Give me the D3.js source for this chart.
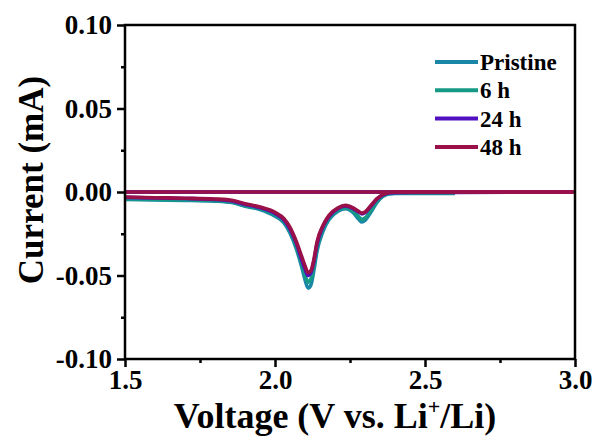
<!DOCTYPE html>
<html><head><meta charset="utf-8">
<script src="https://cdn.jsdelivr.net/npm/d3@7"></script>
<style>body{margin:0;background:#fff}svg{display:block}text{font-family:"Liberation Serif","Times New Roman",serif;font-weight:bold}</style>
</head><body><svg id="c" width="599" height="438"></svg>
<script>
// Data
const seriesNames = ["Pristine", "6 h", "24 h", "48 h"];
const seriesColors = ["#1a86a8", "#169a86", "#5010c0", "#9a1048"];
const fwdV = [1.50,1.60,1.70,1.80,1.86,1.90,1.95,2.00,2.03,2.05,2.07,2.09,2.10,2.11,2.12,2.13,2.14,2.16,2.18,2.21,2.235,2.26,2.28,2.29,2.30,2.32,2.34,2.36,2.38,2.40,2.50,2.60];
const fwdPristine = [-0.0045,-0.0048,-0.005,-0.0055,-0.0065,-0.0085,-0.0105,-0.0145,-0.0185,-0.0245,-0.0335,-0.0455,-0.0525,-0.0575,-0.0555,-0.0465,-0.0355,-0.0235,-0.0165,-0.0115,-0.0100,-0.0122,-0.0165,-0.0180,-0.0170,-0.0120,-0.0062,-0.0026,-0.0011,-0.0009,-0.0009,-0.0009];
const fwd6h = [-0.0042,-0.0045,-0.0047,-0.0052,-0.0062,-0.0082,-0.0100,-0.0138,-0.0178,-0.0235,-0.0322,-0.0435,-0.0495,-0.0540,-0.0520,-0.0442,-0.0335,-0.0222,-0.0158,-0.0108,-0.0094,-0.0112,-0.0150,-0.0165,-0.0156,-0.0110,-0.0056,-0.0021,-0.0009,-0.0007,-0.0007,-0.0007];
const fwd24h = [-0.0032,-0.0036,-0.0039,-0.0045,-0.0055,-0.0075,-0.0094,-0.0128,-0.0168,-0.0222,-0.0302,-0.0412,-0.0462,-0.0500,-0.0482,-0.0412,-0.0312,-0.0207,-0.0146,-0.0099,-0.0083,-0.0099,-0.0121,-0.0131,-0.0124,-0.0084,-0.0043,-0.0017,-0.0005,-0.0004,-0.0003,-0.0002];
const fwd48h = [-0.0030,-0.0034,-0.0037,-0.0042,-0.0051,-0.0070,-0.0090,-0.0122,-0.0160,-0.0212,-0.0292,-0.0392,-0.0442,-0.0483,-0.0470,-0.0400,-0.0300,-0.0200,-0.0140,-0.0095,-0.0080,-0.0095,-0.0118,-0.0126,-0.0120,-0.0080,-0.0040,-0.0015,-0.0003,0.0000,0.0000,0.0000];
const endV = [2.60, 2.60, 3.00, 3.00];
const xTicks = [1.5, 2.0, 2.5, 3.0];
const yTicks = [-0.10, -0.05, 0.00, 0.05, 0.10];
const xMinor = [1.75, 2.25, 2.75];
const yMinor = [-0.075, -0.025, 0.025, 0.075];

const fwdAll = [fwdPristine, fwd6h, fwd24h, fwd48h];
const svg = d3.select("#c");
const L = 125, R = 575, T = 25, B = 359;
const x = d3.scaleLinear().domain([1.5, 3.0]).range([L, R]);
const y = d3.scaleLinear().domain([-0.10, 0.10]).range([B, T]);

// Curves
const line = d3.line().x(d => x(d[0])).y(d => y(d[1])).curve(d3.curveMonotoneX);
const lineL = d3.line().x(d => x(d[0])).y(d => y(d[1]));
fwdAll.forEach((vals, i) => {
  let pts = fwdV.map((v, k) => [v, vals[k]]);
  if (endV[i] > 2.6) pts.push([endV[i], 0]);
  svg.append("path").attr("d", line(pts)).attr("fill", "none")
    .attr("stroke", seriesColors[i]).attr("stroke-width", 3.6).attr("stroke-linejoin", "round");
  const ret = [[endV[i], 0], [1.5, 0]];
  svg.append("path").attr("d", lineL(ret)).attr("fill", "none")
    .attr("stroke", seriesColors[i]).attr("stroke-width", 3.6);
});

// Frame
svg.append("rect").attr("x", L).attr("y", T).attr("width", R - L).attr("height", B - T)
  .attr("fill", "none").attr("stroke", "#000").attr("stroke-width", 2.5);

// Axes
const fmtY = d => d3.format(".2f")(d).replace("\u2212", "-");
const xAx = svg.append("g").attr("transform", `translate(0,${B})`)
  .call(d3.axisBottom(x).tickValues(xTicks).tickFormat(d3.format(".1f")).tickSize(8).tickPadding(3));
const xAxm = svg.append("g").attr("transform", `translate(0,${B})`)
  .call(d3.axisBottom(x).tickValues(xMinor).tickFormat("").tickSize(4));
const yAx = svg.append("g").attr("transform", `translate(${L},0)`)
  .call(d3.axisLeft(y).tickValues(yTicks).tickFormat(fmtY).tickSize(8).tickPadding(5));
const yAxm = svg.append("g").attr("transform", `translate(${L},0)`)
  .call(d3.axisLeft(y).tickValues(yMinor).tickFormat("").tickSize(4));
[xAx, xAxm, yAx, yAxm].forEach(g => {
  g.select(".domain").remove();
  g.selectAll("line").attr("stroke", "#000").attr("stroke-width", 2.5);
  g.selectAll("text").attr("fill", "#000").attr("font-size", 27).attr("font-weight", "bold")
    .attr("font-family", '"Liberation Serif","Times New Roman",serif');
});
yAx.selectAll("text").attr("dy", "0.33em");
xAx.selectAll("text").attr("dy", "0.7em");

// Axis titles
const xt = svg.append("text").attr("x", (L + R) / 2 - 15).attr("y", 428).attr("text-anchor", "middle")
  .attr("font-size", 36).attr("fill", "#000");
xt.append("tspan").text("Voltage (V vs. Li");
xt.append("tspan").text("+").attr("font-size", 22).attr("dy", -14);
xt.append("tspan").text("/Li)").attr("dy", 14);
svg.append("text").attr("transform", `translate(43,${180}) rotate(-90)`).attr("text-anchor", "middle")
  .attr("font-size", 35).attr("fill", "#000").text("Current (mA)");

// Legend
seriesNames.forEach((n, i) => {
  const yy = 62 + i * 28.3;
  svg.append("line").attr("x1", 435).attr("x2", 478).attr("y1", yy).attr("y2", yy)
    .attr("stroke", seriesColors[i]).attr("stroke-width", 4);
  svg.append("text").attr("x", 480).attr("y", yy).attr("dy", "0.35em").attr("font-size", 23)
    .attr("fill", "#000").text(n);
});
</script></body></html>
